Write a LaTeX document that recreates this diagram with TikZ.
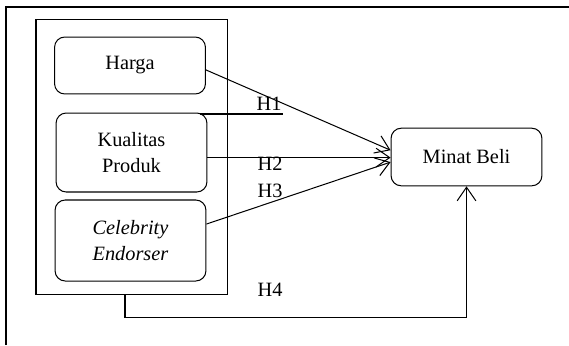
\documentclass[tikz,border=0pt]{standalone}
\usepackage{fontspec}
\setmainfont{Liberation Serif}
\usetikzlibrary{arrows.meta}

\begin{document}
\begin{tikzpicture}[
    x=0.59pt, y=-0.59pt,
    font=\fontsize{12}{15}\selectfont,
    var/.style={rectangle, rounded corners=6pt, draw=black, line width=0.6pt, align=center, minimum width=89pt},
    group/.style={rectangle, draw=black, line width=0.6pt, minimum width=112.7pt, minimum height=162.8pt},
    hyp/.style={inner sep=0pt},
    arrow/.style={-{Straight Barb[length=8pt, width=11pt]}, line width=0.6pt}
]
\useasboundingbox (0,0) rectangle (569,345);

% frame
\coordinate (fa) at (6,345);
\coordinate (fb) at (6,7);
\coordinate (fc) at (569,7);
\draw[line width=0.9pt] (fa) -- (fb) -- (fc);

\node[group] (group) at (131.5,157) {};

\node[var, minimum height=33.6pt] (harga) at (130,65.5) {Harga};
\node[var, minimum height=46.6pt] (kualitas) at (131.5,152.5) {Kualitas\\Produk};
\node[var, minimum height=47.8pt] (celeb) at (130.5,240.5) {\textit{Celebrity}\\\textit{Endorser}};

\node[var, minimum height=34pt] (minat) at (466.5,157) {Minat Beli};

\node[hyp] (h1) at (269,104) {H1};
\node[hyp] (h2) at (270,163.5) {H2};
\node[hyp] (h3) at (270,191) {H3};
\node[hyp] (h4) at (270,290) {H4};

\coordinate (ul1) at (200,114);
\coordinate (ul2) at (283,114);
\draw[line width=1.3pt] (ul1) -- (ul2);

\draw[arrow] ([yshift=-2.6pt]harga.east) -- ([yshift=4pt]minat.west);
\draw[arrow] ([yshift=-3pt]kualitas.east) -- ([yshift=-3pt]kualitas.east -| minat.west);
\draw[arrow] ([yshift=9.7pt]celeb.east) -- ([yshift=-3pt]minat.west);

\coordinate (turn) at (125,317);
\draw[arrow] (group.south -| turn) -- (turn) -| (minat.south);

\end{tikzpicture}
\end{document}
